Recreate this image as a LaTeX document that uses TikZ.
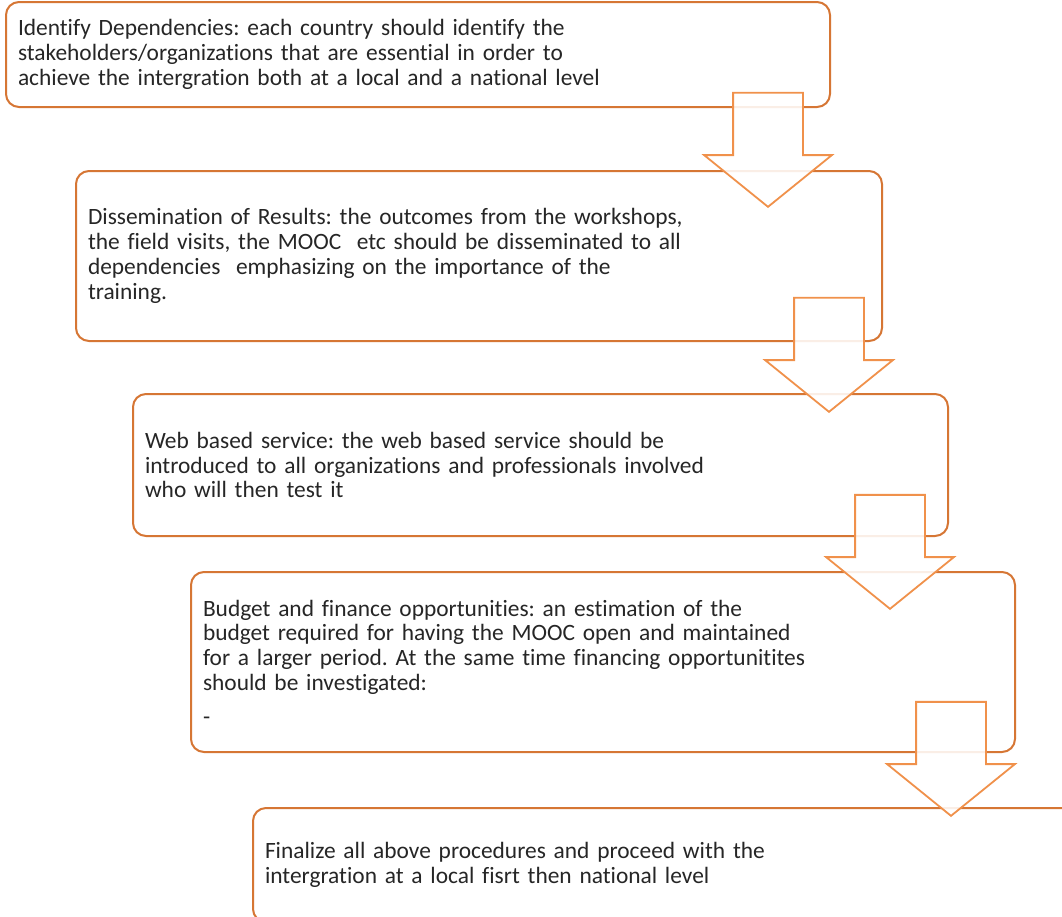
\documentclass[tikz,border=0pt]{standalone}
\usepackage{fontspec}
\setmainfont[Ligatures=NoCommon]{Carlito}
\usepackage{xcolor}
\usetikzlibrary{shapes.arrows, positioning}
\definecolor{boxorange}{RGB}{214,118,52}
\definecolor{arroworange}{RGB}{240,145,75}
\definecolor{textgray}{RGB}{38,38,38}
\frenchspacing

\begin{document}
\begin{tikzpicture}[x=1pt, y=-1pt,
  stepbox/.style={rectangle, rounded corners=13pt, draw=boxorange, line width=2pt,
    fill=white, anchor=north west, align=left, inner xsep=12pt, inner ysep=0pt,
    text=textgray, font=\fontsize{23.4}{24.8}\selectfont},
  downarrow/.style={single arrow, shape border rotate=270, draw=arroworange,
    line width=1.8pt, fill=white, fill opacity=0.88, inner sep=34pt,
    minimum height=114pt, single arrow head extend=29pt,
    single arrow tip angle=102, anchor=tip}
]
  \fill[white] (0,0) rectangle (1062,916);
  \useasboundingbox (0,0) rectangle (1062,916);
  \clip (0,0) rectangle (1062,916);

  \node[stepbox, text width=800pt, minimum height=105pt] (identify) at (5,1)
    {Identify Dependencies: each country should identify the\\
     stakeholders/organizations that are essential in order to\\
     achieve the intergration both at a local and a national level};
  \node[stepbox, text width=782pt, minimum height=170pt] (dissemination) at (75,170)
    {Dissemination of Results: the outcomes from the workshops,\\
     the field visits, the MOOC\ \ etc should be disseminated to all\\
     dependencies\ \ emphasizing on the importance of the\\
     training.};
  \node[stepbox, text width=791pt, minimum height=142pt] (webservice) at (132,393)
    {Web based service: the web based service should be\\
     introduced to all organizations and professionals involved\\
     who will then test it};
  \node[stepbox, text width=800pt, minimum height=180pt] (budget) at (190,571)
    {Budget and finance opportunities: an estimation of the\\
     budget required for having the MOOC open and maintained\\
     for a larger period. At the same time financing opportunitites\\
     should be investigated:\\[9pt]
     -};
  \node[stepbox, text width=900pt, minimum height=114pt] (finalize) at (252,807)
    {Finalize all above procedures and proceed with the\\
     intergration at a local fisrt then national level};

  % block arrows between the steps
  \node[downarrow] (down1) at (768,208) {};
  \node[downarrow] (down2) at (829,413) {};
  \node[downarrow] (down3) at (890,610) {};
  \node[downarrow] (down4) at (951,817) {};
\end{tikzpicture}
\end{document}
